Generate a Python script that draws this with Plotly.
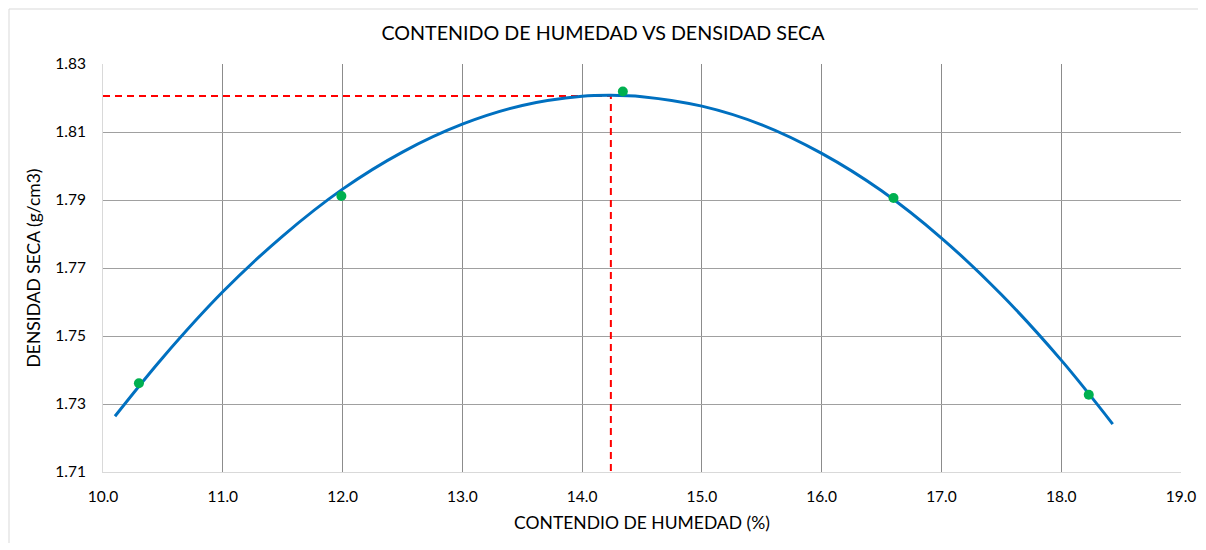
import plotly.graph_objects as go

# Measured points (moisture %, dry density g/cm3)
humedad = [10.30, 11.99, 14.34, 16.60, 18.23]
densidad = [1.7361, 1.7912, 1.8219, 1.7906, 1.7327]

# Trendline
curva_x = [10.10, 10.50, 11.00, 11.50, 12.00, 12.50, 13.00, 13.50, 14.00, 14.24,
           14.50, 15.00, 15.50, 16.00, 16.50, 17.00, 17.50, 18.00, 18.43]
curva_y = [1.7264, 1.7437, 1.7630, 1.7794, 1.7932, 1.8041, 1.8123, 1.8178, 1.8205, 1.8208,
           1.8204, 1.8176, 1.8121, 1.8037, 1.7927, 1.7788, 1.7622, 1.7429, 1.7241]

# Optimum moisture / max dry density guide lines
opt_x = [10.0, 14.24, 14.24]
opt_y = [1.8206, 1.8206, 1.71]

x_ticks = [10, 11, 12, 13, 14, 15, 16, 17, 18, 19]
y_ticks = [1.71, 1.73, 1.75, 1.77, 1.79, 1.81, 1.83]

FONT = 'Lato, Calibri, sans-serif'

W, H = 1190, 535
M = dict(l=95, r=17, t=56, b=71)
plot_w = W - M['l'] - M['r']
plot_h = H - M['t'] - M['b']

fig = go.Figure()

fig.add_trace(go.Scatter(
    x=opt_x, y=opt_y, mode='lines',
    line=dict(color='#FF0000', width=2, dash='7px,5px'),
    hoverinfo='skip'
))

fig.add_trace(go.Scatter(
    x=curva_x, y=curva_y, mode='lines',
    line=dict(color='#0070C0', width=3, shape='spline'),
))

fig.add_trace(go.Scatter(
    x=humedad, y=densidad, mode='markers',
    marker=dict(color='#00B050', size=10),
))

fig.update_layout(
    width=W, height=H,
    margin=M,
    paper_bgcolor='white',
    plot_bgcolor='white',
    showlegend=False,
    font=dict(family=FONT, size=15.5, color='#000000'),
    title=dict(
        text='CONTENIDO DE HUMEDAD VS DENSIDAD SECA',
        font=dict(family=FONT, size=19.7, color='#000000'),
        x=0.5, xanchor='center', y=1 - 25 / H, yanchor='middle'
    ),
    xaxis=dict(
        title=dict(text='CONTENDIO DE HUMEDAD (%)', font=dict(size=17.5), standoff=13),
        range=[10, 19],
        tickvals=x_ticks,
        tickformat='.1f',
        ticklabelstandoff=10,
        automargin='bottom',
        showgrid=True, gridcolor='#8c8c8c', gridwidth=1,
        showline=True, linecolor='#d9d9d9', linewidth=1,
        zeroline=False, ticks='',
    ),
    yaxis=dict(
        title=dict(text='DENSIDAD SECA (g/cm3)', font=dict(size=17.5), standoff=10),
        range=[1.71, 1.83],
        tickvals=y_ticks,
        tickformat='.2f',
        ticklabelstandoff=13,
        automargin='left',
        showgrid=True, gridcolor='#a0a0a0', gridwidth=1,
        showline=True, linecolor='#d9d9d9', linewidth=1,
        zeroline=False, ticks='',
    ),
    shapes=[dict(
        type='rect', xref='paper', yref='paper',
        x0=-(M['l'] - 1) / plot_w, x1=1.05,
        y0=-0.3, y1=1 + (M['t'] - 1) / plot_h,
        line=dict(color='#d9d9d9', width=1), fillcolor='rgba(0,0,0,0)',
        layer='below'
    )],
)

fig.write_html("out.html")
